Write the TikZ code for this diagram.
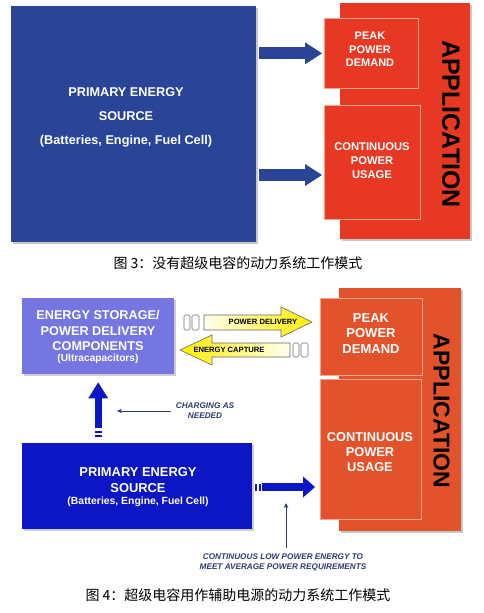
\documentclass[tikz,border=0pt]{standalone}
\usepackage{fontspec}
\setmainfont{Liberation Sans}
\newfontfamily\cjkfont{Noto Sans CJK SC}
\usepackage{tikz}
\usetikzlibrary{positioning, calc}
\usetikzlibrary{arrows.meta}
\definecolor{srcblue}{HTML}{2A4498}
\definecolor{appred}{HTML}{E63822}
\definecolor{storeblue}{HTML}{7676E2}
\definecolor{primblue}{HTML}{0C16C4}
\definecolor{appred2}{HTML}{E2522B}
\definecolor{edgepink}{HTML}{F6A48E}
\definecolor{notenavy}{HTML}{2E3B6B}
\definecolor{yelhead}{HTML}{FFEE00}

\begin{document}
\begin{tikzpicture}[x=1pt,y=-1pt]
 	\def \topcap{263}
 	\def \botcap{595}
 	\tikzstyle{box}=[draw=none,inner sep=0pt,anchor=north west]
 	\tikzstyle{sub-box}=[box,draw=edgepink,line width=0.7pt]
 	\tikzstyle{shadow}=[fill=black!22]
 	\tikzstyle{w-text}=[text=white,align=center,inner sep=0pt]
 	\tikzstyle{app-text}=[font=\bfseries,rotate=-90,inner sep=0pt]
 	\tikzstyle{note}=[text=notenavy,align=center,inner sep=0pt,font=\fontsize{8.2}{10}\selectfont\bfseries\itshape]
 	\tikzstyle{thin-arrow}=[-{Stealth[length=5pt 0 0,width=4.5pt 0 0]},line width=0.9pt,draw=notenavy]
 	\tikzstyle{y-arrow}=[draw=black!60,line width=0.6pt]
 	\tikzstyle{y-bar}=[draw=black!55,fill=white,line width=0.6pt,rounded corners=1.5pt]
 	\tikzstyle{y-text}=[inner sep=0pt,font=\fontsize{7.6}{9}\selectfont\bfseries]
 	\tikzstyle{caption}=[inner sep=0pt,font=\cjkfont\fontsize{14}{16}\selectfont]

 	\fill[white] (0,0) rectangle (483,613);
 	\useasboundingbox (0,0) rectangle (483,613);

 	% top figure: shadows
 	\fill[shadow] (13,8) rectangle (258,244);
 	\fill[shadow] (342,5) rectangle (472,241);

 	% top figure: boxes
 	\node[box,fill=srcblue,minimum width=245pt,minimum height=236pt] (src1) at (11,6) {};
 	\node[box,fill=appred,minimum width=130pt,minimum height=236pt] (app1) at (340,3) {};
 	\node[sub-box,fill=appred,minimum width=94pt,minimum height=70pt] (peak1) at (324,18) {};
 	\node[sub-box,fill=appred,minimum width=96pt,minimum height=114pt] (cont1) at (324,105) {};

 	% top figure: labels
 	\node[w-text,font=\fontsize{12.7}{24}\selectfont\bfseries] (src1-txt) at (126,117)
 		{PRIMARY ENERGY\\SOURCE\\(Batteries, Engine, Fuel Cell)};
 	\node[w-text,font=\fontsize{11}{13.5}\selectfont\bfseries] (peak1-txt) at (370,49.5)
 		{PEAK\\POWER\\DEMAND};
 	\node[w-text,font=\fontsize{11.2}{14}\selectfont\bfseries] (cont1-txt) at (372,161)
 		{CONTINUOUS\\POWER\\USAGE};
 	\node[app-text,font=\fontsize{25}{25}\selectfont\bfseries] (app1-txt) at (451,124) {APPLICATION};

 	% top figure: arrows
 	\draw[-{Triangle[length=17pt 0 0,width=22pt 0 0,line width=0pt 0 0]},line width=12pt,srcblue,
 		shorten <=3pt,shorten >=2pt] (src1.east |- peak1.west) -- (peak1.west);
 	\draw[-{Triangle[length=17pt 0 0,width=22pt 0 0,line width=0pt 0 0]},line width=12pt,srcblue,
 		shorten <=3pt,shorten >=2pt] (src1.east |- 0,175) -- (cont1.west |- 0,175);

 	\node[caption] (cap3) at (238,\topcap) {图 3：没有超级电容的动力系统工作模式};

 	% bottom figure: shadows
 	\fill[shadow] (341,290) rectangle (463,533);
 	\fill[black!20] (24,300) rectangle (176,376);
 	\fill[black!20] (24,445) rectangle (254,531);

 	% bottom figure: boxes
 	\node[box,fill=storeblue,minimum width=152pt,minimum height=76pt] (store) at (22,298) {};
 	\node[box,fill=primblue,minimum width=230pt,minimum height=86pt] (prim) at (22,443) {};
 	\node[box,fill=appred2,minimum width=122pt,minimum height=243pt] (app2) at (339,288) {};
 	\node[sub-box,fill=appred2,minimum width=102pt,minimum height=77pt] (peak2) at (320,298) {};
 	\node[sub-box,fill=appred2,minimum width=101pt,minimum height=140pt] (cont2) at (320,379) {};

 	% bottom figure: labels
 	\node[w-text,font=\fontsize{12.7}{15.5}\selectfont\bfseries] (store-txt) at (98,330.5)
 		{ENERGY STORAGE/\\POWER DELIVERY\\COMPONENTS};
 	\node[w-text,font=\fontsize{10.2}{12}\selectfont\bfseries] (ultra-txt) at (98,359) {(Ultracapacitors)};
 	\node[w-text,font=\fontsize{12.9}{16}\selectfont\bfseries] (prim-txt) at (138,480)
 		{PRIMARY ENERGY\\SOURCE};
 	\node[w-text,font=\fontsize{10.4}{12}\selectfont\bfseries] (fuel-txt) at (138,502)
 		{(Batteries, Engine, Fuel Cell)};
 	\node[w-text,font=\fontsize{13}{15.5}\selectfont\bfseries] (peak2-txt) at (371,333.5)
 		{PEAK\\POWER\\DEMAND};
 	\node[w-text,font=\fontsize{12.8}{15}\selectfont\bfseries] (cont2-txt) at (370,452)
 		{CONTINUOUS\\POWER\\USAGE};
 	\node[app-text,font=\fontsize{23}{23}\selectfont\bfseries] (app2-txt) at (441.5,411) {APPLICATION};

 	% bottom figure: blue arrows
 	\draw[-{Triangle[length=16pt 0 0,width=20pt 0 0,line width=0pt 0 0]},line width=7pt,primblue,
 		shorten <=15pt,shorten >=8pt] (prim.north -| store.south) -- (store.south);
 	\fill[primblue] (94.5,431) rectangle (101.5,433);
 	\fill[primblue] (94.5,434.7) rectangle (101.5,437);
 	\draw[-{Triangle[length=12pt 0 0,width=21pt 0 0,line width=0pt 0 0]},line width=8pt,primblue,
 		shorten <=10pt,shorten >=5pt] (prim.east |- 0,487) -- (cont2.west |- 0,487);
 	\fill[primblue] (255,483.5) rectangle (257,490.5);
 	\fill[primblue] (259,483.5) rectangle (261,490.5);

 	% bottom figure: yellow arrows
 	\path[y-arrow,left color=yellow!6,right color=yelhead]
 		(204,315) -- (281,315) -- (281,307) -- (312,322) -- (281,337) -- (281,330) -- (204,330) -- cycle;
 	\draw[y-bar] (184,315) rectangle (190,330);
 	\draw[y-bar] (192,315) rectangle (199,330);
 	\node[y-text] (deliv) at (263,322) {POWER DELIVERY};

 	\path[y-arrow,left color=yelhead,right color=yellow!6]
 		(180,350) -- (212,335) -- (212,343) -- (290,343) -- (290,357) -- (212,357) -- (212,365) -- cycle;
 	\draw[y-bar] (293,343) rectangle (299,357);
 	\draw[y-bar] (301,343) rectangle (308,357);
 	\node[y-text] (capt) at (229,350) {ENERGY CAPTURE};

 	% bottom figure: notes
 	\node[note] (charge) at (205,411) {CHARGING AS\\NEEDED};
 	\coordinate (charge-end) at (117,411);
 	\draw[thin-arrow,shorten <=5pt] (charge.west) -- (charge-end);

 	\node[note] (lowpow) at (283,562) {CONTINUOUS LOW POWER ENERGY TO\\MEET AVERAGE POWER REQUIREMENTS};
 	\coordinate (lowpow-end) at (286,503);
 	\draw[thin-arrow,shorten <=5pt] (lowpow.north -| lowpow-end) -- (lowpow-end);

 	\node[caption] (cap4) at (238,\botcap) {图 4：超级电容用作辅助电源的动力系统工作模式};
\end{tikzpicture}
\end{document}
